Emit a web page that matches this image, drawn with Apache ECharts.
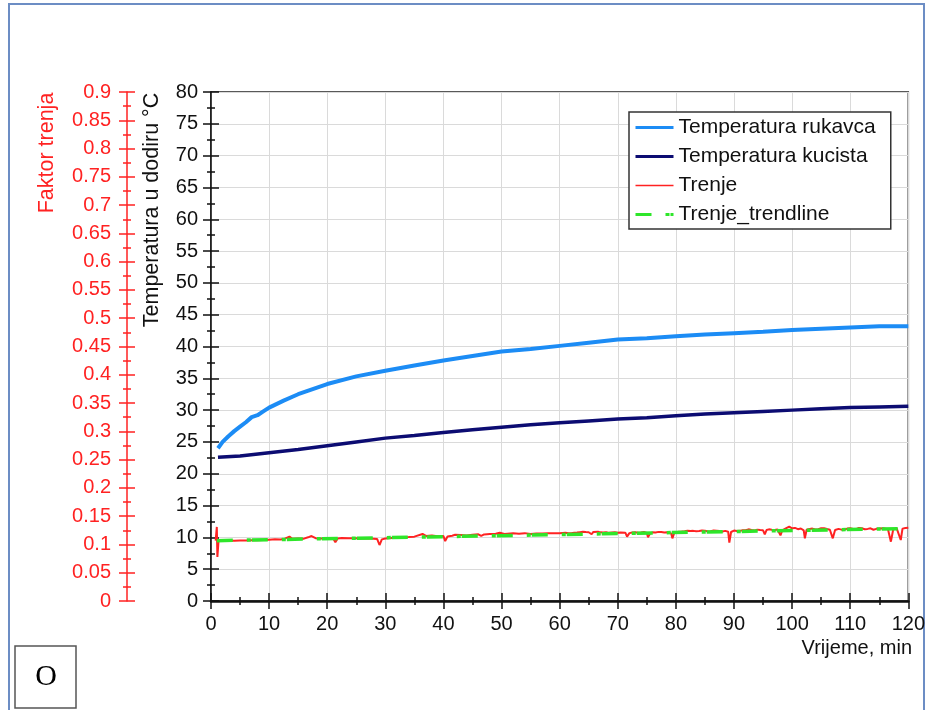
<!DOCTYPE html>
<html>
<head>
<meta charset="utf-8">
<script src="https://cdn.jsdelivr.net/npm/echarts@6/dist/echarts.min.js"></script>
<style>
html,body{margin:0;padding:0;background:#fff;}
#chart{width:928px;height:710px;}
</style>
</head>
<body>
<div id="chart"></div>
<script>
// ---- data ----
const seriesNames = ['Temperatura rukavca', 'Temperatura kucista', 'Trenje', 'Trenje_trendline'];

const rukavcaTime = [1.2,2,3,4,5,6,7,8,9,10,12.5,15,17.5,20,25,30,35,40,45,50,55,60,65,70,75,80,85,90,95,100,105,110,115,120];
const rukavcaTemp = [24.0,25.0,25.9,26.7,27.4,28.1,28.9,29.2,29.8,30.4,31.5,32.5,33.3,34.1,35.3,36.2,37.0,37.8,38.5,39.2,39.6,40.1,40.6,41.1,41.3,41.6,41.9,42.1,42.3,42.6,42.8,43.0,43.2,43.2];

const kucistaTime = [1.2,5,10,15,20,25,30,35,40,45,50,55,60,65,70,75,80,85,90,95,100,105,110,115,120];
const kucistaTemp = [22.6,22.8,23.3,23.8,24.4,25.0,25.6,26.0,26.5,26.9,27.3,27.7,28.0,28.3,28.6,28.8,29.1,29.4,29.6,29.8,30.0,30.2,30.4,30.5,30.6];

// friction factor (red scale), [time, value]
const trenje = [
 [0.8,0.1067],[1.0,0.131],[1.1,0.078],[1.3,0.1067],[2,0.1065],[3,0.1068],[4,0.1066],[5,0.1070],[6,0.1068],
 [7,0.1072],[8,0.1075],[9,0.1080],[10,0.1085],[11,0.1090],[12,0.1088],[12.7,0.1102],[13.5,0.1138],[14,0.1100],
 [15,0.1105],[16,0.1102],[16.7,0.1126],[17.3,0.1149],[18,0.1110],[19,0.1105],[20,0.1108],[21,0.1110],[21.4,0.1040],
 [21.8,0.1105],[22.5,0.1112],[23.7,0.1108],[25,0.1110],[26,0.1105],[27,0.1108],[28,0.1100],[28.6,0.1095],[29,0.0990],
 [29.4,0.1090],[30,0.1105],[31,0.1112],[32,0.1120],[33,0.1126],[34,0.1130],[35,0.1138],[36.4,0.1185],[37,0.1150],
 [38,0.1160],[39,0.1145],[40,0.1150],[40.3,0.1060],[40.7,0.1140],[41.5,0.1155],[42,0.1170],[43,0.1167],[44,0.1160],
 [45,0.1172],[46,0.1180],[46.5,0.1150],[47,0.1178],[48,0.1185],[49,0.1190],[49.7,0.1208],[50.5,0.1185],[51.5,0.1195],
 [52,0.1197],[53,0.1190],[54,0.1200],[55,0.1185],[56,0.1195],[57,0.1192],[58,0.1197],[59,0.1200],
 [60,0.1197],[60.5,0.1203],[61,0.1205],[61.5,0.1198],[62,0.1200],[62.5,0.1208],[63,0.1210],[63.5,0.1218],[64,0.1226],
 [64.5,0.1219],[65,0.1215],[65.5,0.1180],[65.8,0.1222],[66.6,0.1226],[67,0.1214],[67.5,0.1210],[68,0.1218],[68.5,0.1205],
 [69,0.1212],[69.5,0.1215],[70,0.1206],[70.5,0.1210],[71.3,0.1208],[71.6,0.1138],[72,0.1200],[72.5,0.1212],[73,0.1215],
 [73.5,0.1207],[74,0.1212],[74.5,0.1220],[75,0.1205],[75.2,0.1126],[75.6,0.1200],[76,0.1214],[76.5,0.1212],[77,0.1222],
 [77.5,0.1220],[78,0.1210],[78.5,0.1215],[79.2,0.1195],[79.4,0.1108],[79.7,0.1200],[80,0.1218],[80.5,0.1225],[81,0.1228],
 [81.5,0.1235],[82,0.1244],[82.5,0.1236],[83,0.1240],[83.5,0.1232],[84,0.1238],[84.5,0.1246],[85,0.1244],[85.5,0.1230],
 [86,0.1235],[86.5,0.1248],[87,0.1244],[87.5,0.1236],[88,0.1230],[88.5,0.1240],[89,0.1225],[89.2,0.1031],[89.5,0.1220],
 [90,0.1245],[90.5,0.1236],[91,0.1240],[91.5,0.1252],[92,0.1250],[92.5,0.1267],[93,0.1255],[93.5,0.1245],[94,0.1262],
 [94.5,0.1254],[95,0.1250],[95.3,0.1180],[95.6,0.1255],[96,0.1267],[96.5,0.1258],[97,0.1255],[97.5,0.1265],[98,0.1160],
 [98.3,0.1250],[98.6,0.1272],[99,0.1290],[99.5,0.1314],[100,0.1285],[100.5,0.1292],[101,0.1270],[101.5,0.1282],[102,0.1250],
 [102.2,0.1108],[102.5,0.1260],[103,0.1275],[103.5,0.1280],[104,0.1266],[104.5,0.1270],[105,0.1288],[105.5,0.1285],
 [106,0.1272],[106.5,0.1260],[107,0.1108],[107.4,0.1255],[108,0.1275],[108.5,0.1262],[109,0.1265],[109.5,0.1280],
 [110,0.1285],[110.5,0.1275],[111,0.1270],[111.5,0.1290],[112,0.1285],[112.5,0.1270],[113,0.1275],[113.5,0.1285],
 [114,0.1260],[114.5,0.1276],[115,0.1280],[115.7,0.1285],[116,0.1268],[116.5,0.1270],[117,0.1049],[117.4,0.1265],
 [118,0.1285],[118.3,0.1272],[118.7,0.1079],[119,0.1280],[119.5,0.1290],[120,0.1297]
];

const trendTime = [1, 60, 120];
const trendValue = [0.1067, 0.1175, 0.1282];

// axes
const xMin = 0, xMax = 120, xStep = 10;
const tMin = 0, tMax = 80, tStep = 5;
const fMin = 0, fMax = 0.9, fStep = 0.05;

const xTitle = 'Vrijeme, min';
const tTitle = 'Temperatura u dodiru °C';
const fTitle = 'Faktor trenja';
const panelLabel = 'O';

// ---- chart ----
const FONT = '"Liberation Sans", Arial, sans-serif';
const zip = (a, b) => a.map((v, i) => [v, b[i]]);
const RED = '#ff2222';
const BLUE = '#1c8cf5';
const NAVY = '#0c0c72';
const GREEN = '#2ee62a';

const chart = echarts.init(document.getElementById('chart'), null, {renderer: 'canvas'});

function yAxisBase(min, max, step, color, offset, withLabels, inside, margin) {
  return {
    type: 'value', position: 'left', offset: offset,
    min: min, max: max, interval: step,
    axisLine: {show: withLabels, onZero: false, lineStyle: {color: color, width: 1.5}},
    axisTick: {show: true, inside: inside, length: 8, lineStyle: {color: color, width: 1.5}},
    minorTick: {show: true, splitNumber: 2, length: 4, lineStyle: {color: color, width: 1.5}},
    axisLabel: {show: withLabels, color: color, fontSize: 20, fontFamily: FONT, margin: margin},
    splitLine: {show: false}
  };
}

const yTemp = yAxisBase(tMin, tMax, tStep, '#111', 0, true, false, 13);
yTemp.splitLine = {show: true, lineStyle: {color: '#dadada', width: 1}};
const yTempIn = yAxisBase(tMin, tMax, tStep, '#111', 0, false, true, 13);
const yFr = yAxisBase(fMin, fMax, fStep, RED, 84, true, false, 16);
const yFrIn = yAxisBase(fMin, fMax, fStep, RED, 84, false, true, 16);

function xAxisBase(withLabels, inside) {
  return {
    type: 'value', position: 'bottom', min: xMin, max: xMax, interval: xStep,
    axisLine: {show: withLabels, onZero: false, lineStyle: {color: '#111', width: 2.5}},
    axisTick: {show: true, inside: inside, length: 8, lineStyle: {color: '#111', width: 1.5}},
    minorTick: {show: true, splitNumber: 2, length: 4, lineStyle: {color: '#111', width: 1.5}},
    axisLabel: {show: withLabels, color: '#111', fontSize: 20, fontFamily: FONT, margin: 13},
    splitLine: {show: withLabels, lineStyle: {color: '#dadada', width: 1}}
  };
}

const option = {
  animation: false,
  backgroundColor: '#fff',
  grid: {left: 211, top: 92, width: 700, height: 509, show: true, borderColor: '#222', borderWidth: 1.5, backgroundColor: 'transparent'},
  xAxis: [xAxisBase(true, false), xAxisBase(false, true)],
  yAxis: [yTemp, yFr, yTempIn, yFrIn],
  legend: {
    data: [
      {name: seriesNames[0], lineStyle: {width: 3}},
      {name: seriesNames[1], lineStyle: {width: 3}},
      {name: seriesNames[2], lineStyle: {width: 1.5}},
      {name: seriesNames[3], lineStyle: {width: 3}}
    ],
    orient: 'vertical',
    left: 629, top: 112,
    padding: [5, 15, 4, 5],
    itemWidth: 38, itemHeight: 14, itemGap: 8,
    itemStyle: {opacity: 0},
    backgroundColor: '#fff',
    borderColor: '#333', borderWidth: 1.5, borderRadius: 0,
    textStyle: {color: '#111', fontSize: 21, fontFamily: FONT, lineHeight: 20},
    selectedMode: false
  },
  series: [
    {name: seriesNames[0], type: 'line', xAxisIndex: 0, yAxisIndex: 0, symbol: 'none', smooth: false,
     data: zip(rukavcaTime, rukavcaTemp), lineStyle: {color: BLUE, width: 4}, itemStyle: {color: BLUE}, z: 3},
    {name: seriesNames[1], type: 'line', xAxisIndex: 0, yAxisIndex: 0, symbol: 'none', smooth: false,
     data: zip(kucistaTime, kucistaTemp), lineStyle: {color: NAVY, width: 3.5}, itemStyle: {color: NAVY}, z: 3},
    {name: seriesNames[2], type: 'line', xAxisIndex: 0, yAxisIndex: 1, symbol: 'none',
     data: trenje, lineStyle: {color: RED, width: 2}, itemStyle: {color: RED}, z: 3},
    {name: seriesNames[3], type: 'line', xAxisIndex: 0, yAxisIndex: 1, symbol: 'none',
     data: zip(trendTime, trendValue), lineStyle: {color: GREEN, width: 3.5, type: [16, 14, 4, 1]}, itemStyle: {color: GREEN}, z: 4}
  ],
  graphic: [
    {type: 'rect', z: -10, silent: true, shape: {x: 9, y: 4, width: 915, height: 720},
     style: {fill: 'none', stroke: '#6c8dc4', lineWidth: 2}},
    {type: 'rect', z: 10, shape: {x: 15, y: 646, width: 61, height: 62},
     style: {fill: '#fff', stroke: '#555', lineWidth: 1.5}},
    {type: 'text', z: 11, x: 46, y: 677,
     style: {text: panelLabel, fill: '#000', font: '30px "Liberation Serif", "Times New Roman", serif', textAlign: 'center', textVerticalAlign: 'middle', align: 'center', verticalAlign: 'middle'}},
    {type: 'text', z: 11, x: 152, y: 210, rotation: Math.PI / 2,
     style: {text: tTitle, fill: '#111', font: '21.5px ' + FONT, textAlign: 'center', textVerticalAlign: 'middle', align: 'center', verticalAlign: 'middle'}},
    {type: 'text', z: 11, x: 47, y: 153, rotation: Math.PI / 2,
     style: {text: fTitle, fill: RED, font: '21.5px ' + FONT, textAlign: 'center', textVerticalAlign: 'middle', align: 'center', verticalAlign: 'middle'}},
    {type: 'text', z: 11, x: 912, y: 648,
     style: {text: xTitle, fill: '#111', font: '20px ' + FONT, textAlign: 'right', textVerticalAlign: 'middle', align: 'right', verticalAlign: 'middle'}}
  ]
};

chart.setOption(option);
</script>
</body>
</html>
